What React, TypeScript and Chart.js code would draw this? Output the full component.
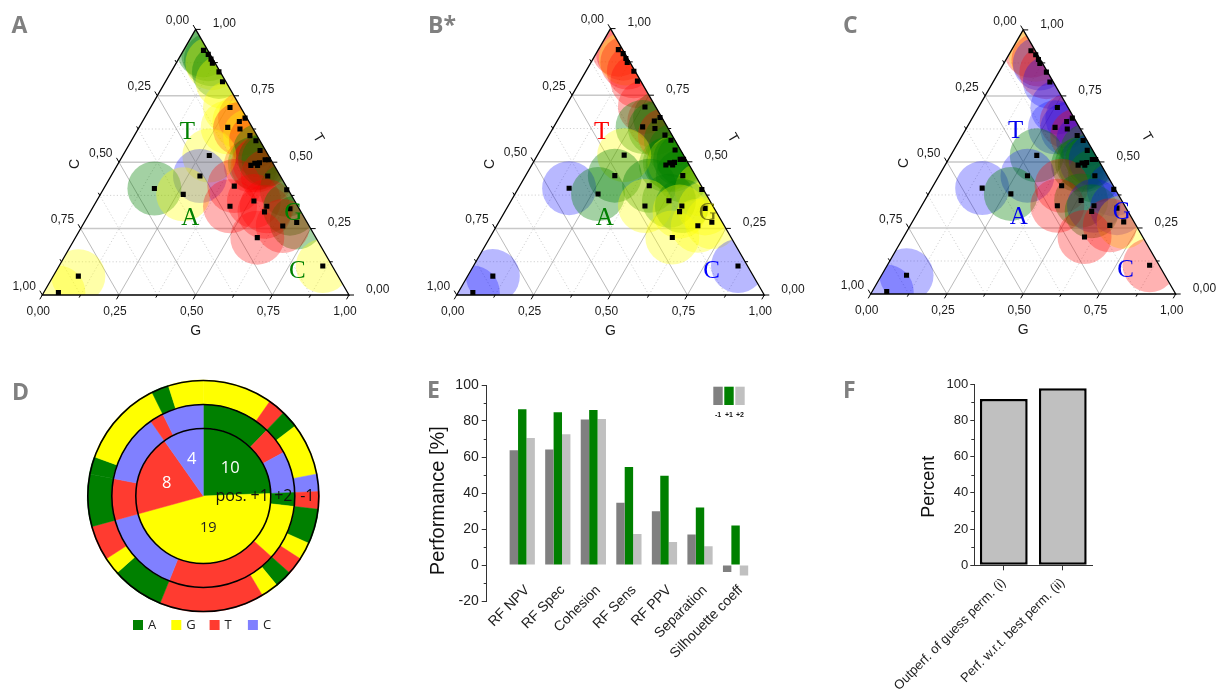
import React, { useEffect, useRef } from 'react';
import { Chart, registerables } from 'chart.js';

Chart.register(...registerables);

const SANS = '"Liberation Sans", Arial, Helvetica, sans-serif';
const OPEN = '"Open Sans", "Liberation Sans", sans-serif';
const SERIF = '"Liberation Serif", "Times New Roman", serif';
const H = Math.sqrt(3) / 2;

// ===== Ternary compositions (shared by panels A, B*, C) =====
const pointG = [0.065, 0.088, 0.106, 0.118, 0.156, 0.186, 0.259, 0.328, 0.316, 0.289, 0.332, 0.377, 0.406, 0.438, 0.436, 0.445, 0.459, 0.458, 0.472, 0.483, 0.282, 0.29, 0.165, 0.27, 0.511, 0.421, 0.599, 0.513, 0.445, 0.565, 0.568, 0.645, 0.693, 0.654, 0.593, 0.86, 0.082, 0.048];
const pointT = [0.921, 0.906, 0.888, 0.873, 0.84, 0.803, 0.706, 0.666, 0.653, 0.631, 0.625, 0.6, 0.581, 0.544, 0.488, 0.496, 0.498, 0.488, 0.509, 0.509, 0.525, 0.448, 0.401, 0.379, 0.448, 0.41, 0.396, 0.354, 0.334, 0.334, 0.313, 0.325, 0.273, 0.26, 0.216, 0.109, 0.071, 0.009];
const pointC = [0.014, 0.006, 0.006, 0.009, 0.004, 0.011, 0.035, 0.006, 0.031, 0.08, 0.043, 0.023, 0.013, 0.018, 0.076, 0.059, 0.043, 0.054, 0.019, 0.008, 0.193, 0.262, 0.434, 0.351, 0.041, 0.169, 0.005, 0.133, 0.221, 0.101, 0.119, 0.03, 0.034, 0.086, 0.191, 0.031, 0.847, 0.943];

// bubble class of every composition in each panel
const basesA = ['A', 'A', 'A', 'G', 'A', 'G', 'G', 'T', 'G', 'G', 'T', 'G', 'T', 'A', 'T', 'A', 'T', 'T', 'A', 'A', 'G', 'C', 'A', 'G', 'T', 'T', 'A', 'T', 'T', 'T', 'T', 'A', 'A', 'T', 'T', 'G', 'G', 'G'];
const basesB = ['T', 'T', 'G', 'T', 'T', 'T', 'T', 'A', 'T', 'A', 'A', 'T', 'A', 'A', 'A', 'A', 'G', 'A', 'A', 'A', 'G', 'A', 'C', 'A', 'A', 'A', 'G', 'A', 'G', 'A', 'G', 'G', 'G', 'G', 'G', 'C', 'C', 'C'];
const basesC = ['T', 'G', 'T', 'C', 'T', 'C', 'C', 'C', 'T', 'C', 'C', 'T', 'C', 'A', 'A', 'A', 'C', 'A', 'A', 'C', 'A', 'C', 'C', 'A', 'A', 'T', 'C', 'A', 'T', 'C', 'A', 'C', 'G', 'T', 'T', 'T', 'C', 'C'];

const vertexLetters = ['T', 'A', 'G', 'C'];
const letterColorsA = ['#008000', '#008000', '#008000', '#008000'];
const letterColorsB = ['#ff0000', '#008000', '#7a7a10', '#0000ff'];
const letterColorsC = ['#0000ee', '#0000ee', '#0000ee', '#0000ee'];

const ternTicks = [0, 0.25, 0.5, 0.75, 1];
const ternTickLabels = ['0,00', '0,25', '0,50', '0,75', '1,00'];
const ternMinorTicks = [0.125, 0.375, 0.625, 0.875];
const ternAxisTitles = ['G', 'C', 'T'];

// ===== Panel D: nucleotide rings =====
const ringBases = ['A', 'G', 'T', 'C'];
const innerBases = ['A', 'G', 'T', 'C'];
const innerCounts = [10, 19, 8, 4];
const middleBases = ['A', 'T', 'C', 'A', 'G', 'T', 'C', 'T', 'C', 'T', 'C'];
const middleCounts = [5, 2, 3, 1, 4, 8, 6, 3, 5, 1, 3];
const outerBases = ['G', 'T', 'A', 'G', 'C', 'T', 'A', 'G', 'T', 'A', 'G', 'T', 'A', 'G', 'T', 'A', 'A', 'G', 'A', 'G'];
const outerCounts = [4, 1, 1, 3, 1, 1, 2, 1, 1, 1, 1, 6, 3, 1, 2, 3, 1, 5, 1, 2];
const ringPositions = ['+1', '+2', '-1'];

// ===== Panel E: performance =====
const perfCategories = ['RF NPV', 'RF Spec', 'Cohesion', 'RF Sens', 'RF PPV', 'Separation', 'Silhouette coeff'];
const perfSeries = ['-1', '+1', '+2'];
const perfMinus1 = [63.7, 64.1, 80.9, 34.6, 29.8, 17.0, -3.9];
const perfPlus1 = [86.5, 84.8, 86.1, 54.4, 49.6, 31.9, 22.0];
const perfPlus2 = [70.6, 72.6, 81.1, 17.2, 12.8, 10.4, -5.8];
const perfMinorTicks = [-10, 10, 30, 50, 70, 90];

// ===== Panel F: permutation =====
const permCategories = ['Outperf. of guess perm. (i)', 'Perf. w.r.t. best perm. (ii)'];
const permValues = [91.9, 97.8];
const permMinorTicks = [10, 30, 50, 70, 90];

const BASE_COLORS: Record<string, string> = { A: '#008000', G: '#ffff00', T: '#ff3b30', C: '#8080ff' };
const BUBBLE_COLORS: Record<string, string> = {
  A: 'rgba(0,128,0,0.36)',
  G: 'rgba(255,255,0,0.34)',
  T: 'rgba(255,0,0,0.30)',
  C: 'rgba(0,0,255,0.28)',
};
const BUBBLE_R = 27;
const LETTER_POS: Record<string, [number, number]> = { T: [145, -163], A: [148, -77], G: [251, -82], C: [255, -24] };

function proj(chart: any) {
  const xs = chart.scales.x;
  const ys = chart.scales.y;
  return (g: number, t: number) => ({ x: xs.getPixelForValue(g + t / 2), y: ys.getPixelForValue(t * H) });
}

function gridLine(ctx: CanvasRenderingContext2D, P: any, kind: string, v: number) {
  let a, b;
  if (kind === 'T') { a = P(0, v); b = P(1 - v, v); }
  else if (kind === 'G') { a = P(v, 0); b = P(v, 1 - v); }
  else { a = P(1 - v, 0); b = P(0, 1 - v); }
  ctx.beginPath();
  ctx.moveTo(a.x, a.y);
  ctx.lineTo(b.x, b.y);
  ctx.stroke();
}

function ternaryPlugin(letterColors: string[]) {
  return {
    id: 'ternaryFrame',
    beforeDatasetsDraw(chart: any) {
      const ctx = chart.ctx as CanvasRenderingContext2D;
      const P = proj(chart);
      ctx.save();
      ctx.lineWidth = 0.6;
      ctx.strokeStyle = '#b4b4b4';
      ctx.setLineDash([1.2, 2.2]);
      for (const v of ternMinorTicks) for (const k of ['T', 'G', 'C']) gridLine(ctx, P, k, v);
      ctx.setLineDash([]);
      for (const v of ternTicks.slice(1, -1)) {
        ctx.strokeStyle = '#c8c8c8';
        ctx.lineWidth = 1.5;
        gridLine(ctx, P, 'T', v);
        ctx.strokeStyle = '#8c8c8c';
        ctx.lineWidth = 0.6;
        gridLine(ctx, P, 'G', v);
        gridLine(ctx, P, 'C', v);
      }
      ctx.restore();
    },
    beforeDatasetDraw(chart: any, args: any) {
      if (args.index !== 1) return;
      const ctx = chart.ctx as CanvasRenderingContext2D;
      const P = proj(chart);
      const a = P(0, 0), b = P(1, 0), c = P(0, 1);
      ctx.save();
      ctx.beginPath();
      ctx.moveTo(a.x, a.y);
      ctx.lineTo(b.x, b.y);
      ctx.lineTo(c.x, c.y);
      ctx.closePath();
      ctx.clip();
    },
    afterDatasetDraw(chart: any, args: any) {
      if (args.index === 1) chart.ctx.restore();
    },
    afterDatasetsDraw(chart: any) {
      const ctx = chart.ctx as CanvasRenderingContext2D;
      const P = proj(chart);
      const BL = P(0, 0), BR = P(1, 0), TOP = P(0, 1);
      ctx.save();
      ctx.strokeStyle = '#000';
      ctx.lineWidth = 1.3;
      ctx.beginPath();
      ctx.moveTo(BL.x, BL.y);
      ctx.lineTo(BR.x, BR.y);
      ctx.lineTo(TOP.x, TOP.y);
      ctx.closePath();
      ctx.stroke();
      ctx.lineWidth = 1;
      const tick = (p: any, dx: number, dy: number, len: number) => {
        ctx.beginPath();
        ctx.moveTo(p.x, p.y);
        ctx.lineTo(p.x + dx * len, p.y + dy * len);
        ctx.stroke();
      };
      const all = [...ternTicks.map((v) => [v, 5]), ...ternMinorTicks.map((v) => [v, 3])];
      for (const [v, len] of all) {
        tick(P(v, 0), -0.5, 0.866, len);
        tick(P(0, 1 - v), -0.5, -0.866, len);
        tick(P(1 - v, v), 1, 0, len);
      }
      ctx.fillStyle = '#1a1a1a';
      ctx.font = `12px ${SANS}`;
      ctx.textBaseline = 'middle';
      ternTicks.forEach((v, i) => {
        const lab = ternTickLabels[i];
        let p = P(v, 0);
        ctx.textAlign = 'center';
        ctx.fillText(lab, p.x - 4, p.y + 17);
        p = P(0, 1 - v);
        ctx.textAlign = 'right';
        ctx.fillText(lab, p.x - 6.5, p.y - 8.7);
        p = P(1 - v, v);
        ctx.textAlign = 'left';
        ctx.fillText(lab, p.x + 17, p.y - 5.7);
      });
      // axis titles
      ctx.font = `14px ${SANS}`;
      ctx.textAlign = 'center';
      ctx.fillText(ternAxisTitles[0], BL.x + (BR.x - BL.x) / 2, BL.y + 36);
      ctx.save();
      ctx.translate(BL.x + 33, BL.y - 131);
      ctx.rotate(-Math.PI / 2);
      ctx.fillText(ternAxisTitles[1], 0, 0);
      ctx.restore();
      ctx.save();
      ctx.translate(BL.x + 276, BL.y - 157);
      ctx.rotate(Math.PI / 3);
      ctx.fillText(ternAxisTitles[2], 0, 0);
      ctx.restore();
      // vertex letters
      ctx.font = `25px ${SERIF}`;
      vertexLetters.forEach((L, i) => {
        const [ox, oy] = LETTER_POS[L];
        ctx.fillStyle = letterColors[i];
        ctx.fillText(L, BL.x + ox, BL.y + oy);
      });
      ctx.restore();
    },
  };
}

function makeTernary(bases: string[], letterColors: string[], pad: any) {
  const pts = pointG.map((g, i) => {
    const s = g + pointT[i] + pointC[i];
    return { x: (g + pointT[i] / 2) / s, y: (pointT[i] * H) / s };
  });
  return {
    type: 'scatter',
    data: {
      datasets: [
        {
          type: 'scatter',
          data: pts,
          pointStyle: 'rect',
          pointRadius: 3.6,
          pointBackgroundColor: '#000',
          pointBorderWidth: 0,
          order: 0,
        },
        {
          type: 'bubble',
          data: pts.map((p) => ({ x: p.x, y: p.y, r: BUBBLE_R })),
          backgroundColor: bases.map((b) => BUBBLE_COLORS[b]),
          borderWidth: 0,
          order: 1,
          clip: false,
        },
      ],
    },
    options: {
      animation: false,
      responsive: false,
      events: [],
      layout: { padding: pad },
      scales: {
        x: { type: 'linear', min: 0, max: 1, display: false },
        y: { type: 'linear', min: 0, max: H, display: false },
      },
      plugins: { legend: { display: false }, tooltip: { enabled: false } },
    },
    plugins: [ternaryPlugin(letterColors)],
  };
}

const sunburstPlugin = {
  id: 'sunburstExtras',
  afterDatasetsDraw(chart: any) {
    const ctx = chart.ctx as CanvasRenderingContext2D;
    const m0 = chart.getDatasetMeta(0);
    const m1 = chart.getDatasetMeta(1);
    const m2 = chart.getDatasetMeta(2);
    const a0 = m0.data[0], a1 = m1.data[0], a2 = m2.data[0];
    const cx = a2.x, cy = a2.y;
    ctx.save();
    ctx.strokeStyle = '#000';
    ctx.lineWidth = 1.6;
    for (const r of [a0.outerRadius, a1.outerRadius, a2.outerRadius]) {
      ctx.beginPath();
      ctx.arc(cx, cy, r - 0.5, 0, Math.PI * 2);
      ctx.stroke();
    }
    // counts in the inner pie
    ctx.textAlign = 'center';
    ctx.textBaseline = 'middle';
    m2.data.forEach((arc: any, i: number) => {
      const mid = (arc.startAngle + arc.endAngle) / 2;
      const dark = innerBases[i] === 'G';
      const r = arc.outerRadius * (dark ? 0.47 : 0.57);
      ctx.fillStyle = dark ? '#222' : '#fff';
      ctx.font = `${dark ? 14.5 : 16.5}px ${OPEN}`;
      ctx.fillText(String(innerCounts[i]), cx + r * Math.cos(mid), cy + r * Math.sin(mid));
    });
    // ring position labels
    ctx.font = `16px ${OPEN}`;
    ctx.fillStyle = '#111';
    const rIn = a2.outerRadius * 0.83;
    const rMid = (a1.innerRadius + a1.outerRadius) / 2;
    const rOut = (a0.innerRadius + a0.outerRadius) / 2;
    ctx.textAlign = 'right';
    ctx.fillText('pos.', cx + rIn - 13, cy);
    ctx.textAlign = 'center';
    ctx.fillText(ringPositions[0], cx + rIn, cy);
    ctx.fillText(ringPositions[1], cx + rMid, cy);
    ctx.fillText(ringPositions[2], cx + rOut, cy);
    // legend
    ctx.font = `13px ${OPEN}`;
    ctx.textAlign = 'left';
    ringBases.forEach((b, i) => {
      const x = cx - 70.3 + i * 38.3;
      const y = cy + 124;
      ctx.fillStyle = BASE_COLORS[b];
      ctx.fillRect(x, y, 10, 10);
      ctx.fillStyle = '#222';
      ctx.fillText(b, x + 15, y + 5.5);
    });
    ctx.restore();
  },
};

function makeSunburst(w: number, h: number) {
  const ds = (counts: number[], bases: string[], weight: number) => ({
    data: counts,
    backgroundColor: bases.map((b) => BASE_COLORS[b]),
    borderColor: bases.map((b) => BASE_COLORS[b]),
    borderWidth: 0.5,
    weight,
  });
  return {
    type: 'doughnut',
    data: {
      labels: outerBases,
      datasets: [ds(outerCounts, outerBases, 24), ds(middleCounts, middleBases, 24), ds(innerCounts, innerBases, 68)],
    },
    options: {
      animation: false,
      responsive: false,
      events: [],
      cutout: 0,
      radius: 116,
      layout: { padding: { left: 27.3, right: w - 27.3 - 232, top: 10, bottom: h - 10 - 232 } },
      plugins: { legend: { display: false }, tooltip: { enabled: false } },
    },
    plugins: [sunburstPlugin],
  };
}

function minorTickDraw(chart: any, values: number[]) {
  const ctx = chart.ctx as CanvasRenderingContext2D;
  const y = chart.scales.y;
  const left = chart.chartArea.left;
  ctx.save();
  ctx.strokeStyle = '#333';
  ctx.lineWidth = 1;
  for (const v of values) {
    const py = Math.round(y.getPixelForValue(v)) + 0.5;
    ctx.beginPath();
    ctx.moveTo(left - 3, py);
    ctx.lineTo(left, py);
    ctx.stroke();
  }
  ctx.restore();
}

function drawVTitle(ctx: CanvasRenderingContext2D, text: string, x: number, y: number, size: number) {
  ctx.save();
  ctx.translate(x, y);
  ctx.rotate(-Math.PI / 2);
  ctx.font = `${size}px ${SANS}`;
  ctx.fillStyle = '#111';
  ctx.textAlign = 'center';
  ctx.textBaseline = 'middle';
  ctx.fillText(text, 0, 0);
  ctx.restore();
}

const perfPlugin = {
  id: 'perfExtras',
  afterDraw(chart: any) {
    const ctx = chart.ctx as CanvasRenderingContext2D;
    minorTickDraw(chart, perfMinorTicks);
    drawVTitle(ctx, 'Performance [%]', 18, 130.7, 20);
    // small legend
    ctx.save();
    chart.data.datasets.forEach((d: any, i: number) => {
      const x = 293.3 + i * 11;
      ctx.fillStyle = d.backgroundColor;
      ctx.fillRect(x, 16.7, 9.4, 18.3);
      ctx.fillStyle = '#111';
      ctx.font = `bold 7px ${SANS}`;
      ctx.textAlign = 'center';
      ctx.textBaseline = 'middle';
      ctx.fillText(perfSeries[i], x + 4.7, 45);
    });
    ctx.restore();
  },
};

function makePerf() {
  const mk = (vals: number[], label: string, color: string) => ({
    label,
    data: vals.map((v, i) => ({ x: i + 1, y: v })),
    backgroundColor: color,
    borderWidth: 0,
    barPercentage: 1,
    categoryPercentage: 0.71,
  });
  return {
    type: 'bar',
    data: {
      datasets: [
        mk(perfMinus1, perfSeries[0], '#808080'),
        mk(perfPlus1, perfSeries[1], '#008000'),
        mk(perfPlus2, perfSeries[2], '#c0c0c0'),
      ],
    },
    options: {
      animation: false,
      responsive: false,
      events: [],
      layout: { padding: { left: 0, right: 1.3, top: 15, bottom: 89 } },
      scales: {
        x: {
          type: 'linear',
          min: 0,
          max: 8,
          offset: false,
          position: { y: 0 },
          grid: { display: false, drawTicks: false, offset: false },
          border: { display: false },
          ticks: {
            stepSize: 1,
            autoSkip: false,
            maxRotation: 45,
            minRotation: 45,
            padding: 17,
            labelOffset: 5,
            font: { family: SANS, size: 14 },
            color: '#222',
            callback: (v: number) => perfCategories[v - 1] ?? '',
          },
        },
        y: {
          min: -20,
          max: 100,
          ticks: { stepSize: 20, font: { family: SANS, size: 14 }, color: '#222', padding: 3 },
          grid: { drawOnChartArea: false, tickLength: 5, tickColor: '#333', tickWidth: 1 },
          border: { color: '#333', width: 1 },
          afterFit: (s: any) => { s.width = 66.7; },
        },
      },
      plugins: { legend: { display: false }, tooltip: { enabled: false } },
    },
    plugins: [perfPlugin],
  };
}

const permPlugin = {
  id: 'permExtras',
  afterDraw(chart: any) {
    minorTickDraw(chart, permMinorTicks);
    drawVTitle(chart.ctx, 'Percent', 49, 116.7, 18);
  },
};

function makePerm() {
  return {
    type: 'bar',
    data: {
      labels: permCategories,
      datasets: [
        {
          data: permValues,
          backgroundColor: '#c0c0c0',
          borderColor: '#000',
          borderWidth: 2.5,
          borderSkipped: false,
          barPercentage: 0.81,
          categoryPercentage: 1,
        },
      ],
    },
    options: {
      animation: false,
      responsive: false,
      events: [],
      layout: { padding: { left: 0, right: 17.7, top: 14.3, bottom: 0 } },
      scales: {
        x: {
          grid: { offset: false, drawOnChartArea: false, tickLength: 5, tickColor: '#333' },
          border: { color: '#333', width: 1 },
          ticks: { maxRotation: 45, minRotation: 45, autoSkip: false, padding: 5, labelOffset: 0, font: { family: SANS, size: 13 }, color: '#222' },
          afterFit: (s: any) => {
            s.height = 127.7;
            s.paddingLeft = 0;
            s.paddingRight = 0;
          },
        },
        y: {
          min: 0,
          max: 100,
          ticks: { stepSize: 20, font: { family: SANS, size: 13 }, color: '#222', padding: 2 },
          grid: { drawOnChartArea: false, tickLength: 4, tickColor: '#333' },
          border: { color: '#333', width: 1 },
          afterFit: (s: any) => { s.width = 94.3; },
        },
      },
      plugins: { legend: { display: false }, tooltip: { enabled: false } },
    },
    plugins: [permPlugin],
  };
}

function ChartCanvas({ left, top, width, height, make }: { left: number; top: number; width: number; height: number; make: () => any }) {
  const ref = useRef<HTMLCanvasElement>(null);
  useEffect(() => {
    const chart = new Chart(ref.current as HTMLCanvasElement, make());
    return () => chart.destroy();
  }, []);
  return <canvas ref={ref} width={width} height={height} style={{ position: 'absolute', left, top, width, height }} />;
}

const panelLetters: [string, number, number][] = [
  ['A', 11.5, 12.9],
  ['B*', 428, 12.9],
  ['C', 843, 12.9],
  ['D', 12, 379.5],
  ['E', 427, 378],
  ['F', 843, 378],
];

export default function App() {
  return (
    <div style={{ position: 'absolute', left: 0, top: 0, width: 1227, height: 693, background: '#fff', overflow: 'hidden' }}>
      <ChartCanvas left={0} top={0} width={410} height={345}
        make={() => makeTernary(basesA, letterColorsA, { left: 42.3, right: 61, top: 29.4, bottom: 50 })} />
      <ChartCanvas left={410} top={0} width={415} height={345}
        make={() => makeTernary(basesB, letterColorsB, { left: 46.7, right: 60.7, top: 28.6, bottom: 50 })} />
      <ChartCanvas left={825} top={0} width={402} height={345}
        make={() => makeTernary(basesC, letterColorsC, { left: 45.7, right: 51.3, top: 29.9, bottom: 51 })} />
      <ChartCanvas left={60} top={370} width={290} height={270} make={() => makeSunburst(290, 270)} />
      <ChartCanvas left={420} top={370} width={380} height={320} make={makePerf} />
      <ChartCanvas left={880} top={370} width={230} height={323} make={makePerm} />
      {panelLetters.map(([t, x, y]) => (
        <div key={t} style={{ position: 'absolute', left: x, top: y, fontFamily: OPEN, fontWeight: 700, fontSize: 23, lineHeight: '23px', color: '#808080' }}>
          {t}
        </div>
      ))}
    </div>
  );
}
